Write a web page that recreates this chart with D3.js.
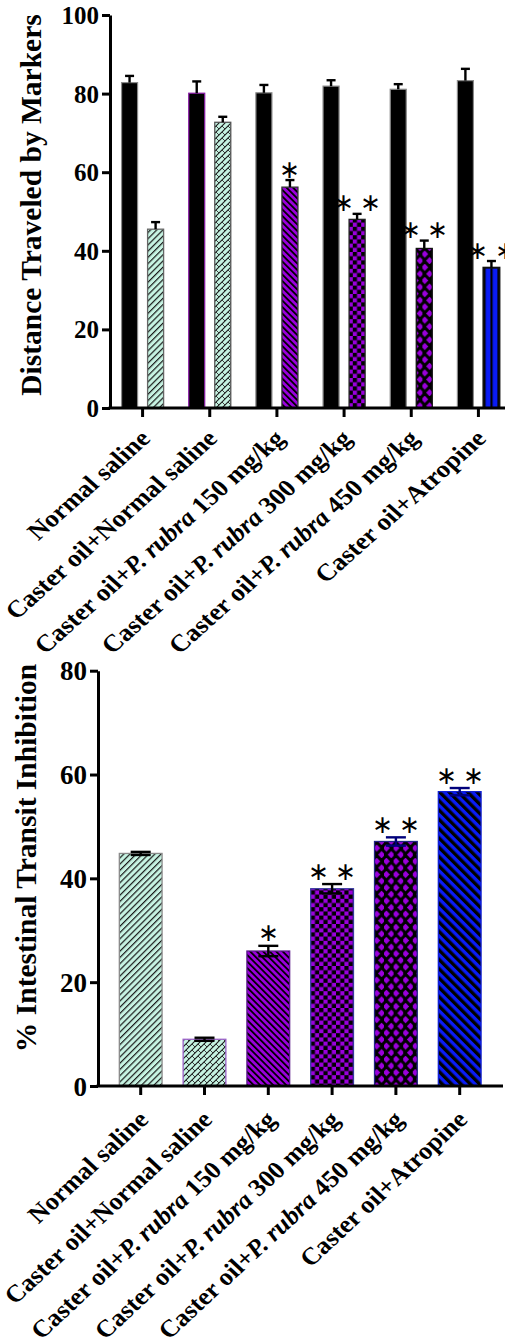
<!DOCTYPE html>
<html>
<head>
<meta charset="utf-8">
<script src="https://cdn.jsdelivr.net/npm/d3@7"></script>
<style>
  html, body { margin: 0; padding: 0; background: #fff; }
  svg { display: block; }
  text { font-family: "Liberation Serif", "Times New Roman", serif; }
</style>
</head>
<body>
<svg id="chart" width="505" height="1342"></svg>
<script>
// Treatment groups (x categories, shared by both panels)
const groups = [
  "Normal saline",
  "Caster oil+Normal saline",
  "Caster oil+P. rubra 150 mg/kg",
  "Caster oil+P. rubra 300 mg/kg",
  "Caster oil+P. rubra 450 mg/kg",
  "Caster oil+Atropine"
];

// Panel A: total intestine length (black) and distance travelled by the marker
const intestineLength    = [82.8, 80.1, 80.2, 81.9, 81.1, 83.3];
const intestineLengthErr = [1.7, 3.0, 2.0, 1.5, 1.3, 3.0];
const markerDistance     = [45.5, 72.7, 56.2, 48.0, 40.6, 35.7];
const markerDistanceErr  = [1.8, 1.4, 1.8, 1.4, 2.0, 1.7];
const distanceTicks      = [0, 20, 40, 60, 80, 100];

// Panel B: % intestinal transit inhibition
const inhibition    = [44.8, 9.0, 26.0, 38.0, 47.1, 56.7];
const inhibitionErr = [0.3, 0.3, 1.0, 0.9, 0.8, 0.7];
const inhibitionTicks = [0, 20, 40, 60, 80];

// Significance marks
const significance = ["", "", "*", "**", "**", "**"];

const MINT = "#c6f3e2", PURPLE = "#9a00dc", BLUE = "#0a1cf5";
const svg = d3.select("#chart");
const defs = svg.append("defs");

// ---------- fill patterns ----------
function stripePattern(id, bg, fg, size, lineW, angle) {
  const p = defs.append("pattern").attr("id", id)
    .attr("patternUnits", "userSpaceOnUse")
    .attr("width", size).attr("height", size)
    .attr("patternTransform", `rotate(${angle})`);
  p.append("rect").attr("width", size).attr("height", size).attr("fill", bg);
  p.append("rect").attr("width", lineW).attr("height", size).attr("fill", fg);
  return p;
}
stripePattern("mintFwd", MINT, "#1a1a1a", 4.4, 1.2, 45);
stripePattern("purpBack", PURPLE, "#000", 4.6, 1.8, -45);
stripePattern("blueBack", BLUE, "#000", 6.6, 3.3, -45);

(function () {
  const p = defs.append("pattern").attr("id", "mintCross")
    .attr("patternUnits", "userSpaceOnUse").attr("width", 6).attr("height", 6);
  p.append("rect").attr("width", 6).attr("height", 6).attr("fill", MINT);
  p.append("path").attr("d", "M-1,7 L7,-1 M-1,1 L1,-1 M5,7 L7,5")
    .attr("stroke", "#1a1a1a").attr("stroke-width", 1.1);
  p.append("path").attr("d", "M0,0 L3,3")
    .attr("stroke", "#2a2a2a").attr("stroke-width", 0.9);
})();

(function () {
  const p = defs.append("pattern").attr("id", "checker")
    .attr("patternUnits", "userSpaceOnUse").attr("width", 8.4).attr("height", 8.4);
  p.append("rect").attr("width", 8.4).attr("height", 8.4).attr("fill", PURPLE);
  p.append("rect").attr("width", 4.2).attr("height", 4.2).attr("fill", "#000");
  p.append("rect").attr("x", 4.2).attr("y", 4.2).attr("width", 4.2).attr("height", 4.2).attr("fill", "#000");
})();

(function () {
  const w = 9.6, h = 13.2;
  const p = defs.append("pattern").attr("id", "diamond")
    .attr("patternUnits", "userSpaceOnUse").attr("width", w).attr("height", h);
  p.append("rect").attr("width", w).attr("height", h).attr("fill", "#000");
  const d = (cx, cy, r) => `M${cx},${cy - r} L${cx + r},${cy} L${cx},${cy + r} L${cx - r},${cy} Z`;
  [[w / 4, h / 4], [3 * w / 4, 3 * h / 4]].forEach(([cx, cy]) => {
    p.append("path").attr("d", d(cx, cy, 2.9)).attr("fill", PURPLE)
      .attr("stroke", PURPLE).attr("stroke-width", 1).attr("stroke-linejoin", "round");
  });
})();

const blueVert = defs.append("pattern").attr("id", "blueVert")
  .attr("patternUnits", "userSpaceOnUse").attr("width", 7).attr("height", 10);
blueVert.append("rect").attr("width", 7).attr("height", 10).attr("fill", BLUE);
blueVert.append("rect").attr("width", 2.2).attr("height", 10).attr("fill", "#000");

// ---------- helpers ----------
function drawLabel(g, label, size) {
  const parts = label.split("P. rubra");
  const t = g.append("text").attr("text-anchor", "end")
    .attr("font-weight", "bold").attr("font-size", size).attr("fill", "#000");
  t.append("tspan").text(parts[0]);
  if (parts.length > 1) {
    t.append("tspan").attr("font-style", "italic").text("P. rubra");
    t.append("tspan").text(parts[1]);
  }
}

function drawYAxis(g, y, x0, ticks, tickSize, title, titleSize, titleX, titleY) {
  const ax = g.append("g").attr("transform", `translate(${x0},0)`)
    .call(d3.axisLeft(y).tickValues(ticks).tickSize(8).tickSizeOuter(0).tickPadding(3));
  ax.select(".domain").attr("stroke", "#000").attr("stroke-width", 3);
  ax.selectAll(".tick line").attr("stroke", "#000").attr("stroke-width", 3);
  ax.selectAll(".tick text").attr("font-family", "Liberation Serif")
    .attr("font-weight", "bold").attr("font-size", tickSize).attr("fill", "#000").attr("dy", "0.34em");
  g.append("text").attr("transform", `translate(${titleX},${titleY}) rotate(-90)`)
    .attr("text-anchor", "middle").attr("font-weight", "bold").attr("font-size", titleSize)
    .attr("fill", "#000").text(title);
}

// category axis with slanted, slightly widened labels
function drawXAxis(g, x, y0, xStart, xEnd, lbl) {
  g.append("line").attr("x1", xStart - 1.5).attr("x2", xEnd).attr("y1", y0).attr("y2", y0)
    .attr("stroke", "#000").attr("stroke-width", 3);
  const ax = g.append("g").attr("transform", `translate(0,${y0})`)
    .call(d3.axisBottom(x).tickSize(9).tickSizeOuter(0).tickFormat(""));
  ax.select(".domain").remove();
  ax.selectAll(".tick line").attr("stroke", "#000").attr("stroke-width", 3);
  groups.forEach(name => {
    const lg = g.append("g")
      .attr("transform", `translate(${x(name) + x.bandwidth() / 2 + lbl.dx},${y0 + lbl.dy}) scale(${lbl.sx},1) rotate(-45)`);
    drawLabel(lg, name, lbl.size);
  });
}

function star(g, cx, cy, mark) {
  const txt = mark === "**" ? "\u2217 \u2217" : "\u2217";
  g.append("text").attr("x", cx).attr("y", cy).attr("text-anchor", "middle")
    .attr("dominant-baseline", "central")
    .attr("font-family", "DejaVu Sans").attr("font-size", 25).attr("fill", "#000").text(txt);
}

// ---------- Panel A ----------
(function () {
  const g = svg.append("g");
  const yAxisX = 110, base = 408;
  const y = d3.scaleLinear().domain([0, 100]).range([base, 15]);
  const x0 = d3.scaleBand().domain(groups).range([109, 512]).padding(0);
  const x1 = d3.scaleBand().domain(["length", "distance"])
    .range([x0.bandwidth() * 0.187, x0.bandwidth() * 0.813]).paddingInner(0.385);

  const lengthStroke   = ["#8a8a8a", "#8a1aa8", "#8a8a8a", "#8a8a8a", "#8a8a8a", "#8a8a8a"];
  const distanceFill   = ["mintFwd", "mintCross", "purpBack", "checker", "diamond", "blueVert"];
  const distanceStroke = ["#666", "#555", "#333", "#222", "#111", "#111"];

  blueVert.attr("x", x0(groups[5]) + x1("distance"));

  groups.forEach((name, i) => {
    const gx = x0(name);
    const bw = x1.bandwidth();
    // total length bar
    const xa = gx + x1("length");
    g.append("rect").attr("x", xa).attr("y", y(intestineLength[i]))
      .attr("width", bw).attr("height", base - y(intestineLength[i]))
      .attr("fill", "#000").attr("stroke", lengthStroke[i]).attr("stroke-width", 1.2);
    // marker distance bar
    const xb = gx + x1("distance");
    g.append("rect").attr("x", xb).attr("y", y(markerDistance[i]))
      .attr("width", bw).attr("height", base - y(markerDistance[i]))
      .attr("fill", `url(#${distanceFill[i]})`)
      .attr("stroke", distanceStroke[i]).attr("stroke-width", i === 5 ? 2 : 1.3);
    // upper error whiskers
    [[xa, intestineLength[i], intestineLengthErr[i]], [xb, markerDistance[i], markerDistanceErr[i]]]
      .forEach(([bx, v, e]) => {
        const cx = bx + bw / 2;
        g.append("line").attr("x1", cx).attr("x2", cx).attr("y1", y(v)).attr("y2", y(v + e))
          .attr("stroke", "#000").attr("stroke-width", 2.4);
        g.append("line").attr("x1", cx - 4.5).attr("x2", cx + 4.5).attr("y1", y(v + e)).attr("y2", y(v + e))
          .attr("stroke", "#000").attr("stroke-width", 2.4);
      });
    if (significance[i]) {
      star(g, xb + bw / 2, y(markerDistance[i] + markerDistanceErr[i]) - 11, significance[i]);
    }
  });

  drawYAxis(g, y, yAxisX, distanceTicks, 25, "Distance Traveled by Markers", 29.5, 41, 205);
  drawXAxis(g, x0, base, yAxisX, 505, { dx: 9, dy: 32, sx: 1.12, size: 24 });
})();

// ---------- Panel B ----------
(function () {
  const g = svg.append("g");
  const yAxisX = 98, base = 1086;
  const y = d3.scaleLinear().domain([0, 80]).range([base, 670.7]);
  const x = d3.scaleBand().domain(groups).range([108.8, 491.6]).paddingInner(0.33).paddingOuter(0.165);

  const fills   = ["mintFwd", "mintCross", "purpBack", "checker", "diamond", "blueBack"];
  const strokes = ["#8a8a8a", "#9a62c8", "#5a1a8a", "#3838a0", "#222288", "#1020d0"];
  const errCol  = ["#000", "#000", "#000", "#000", "#00007a", "#00007a"];

  groups.forEach((name, i) => {
    const bx = x(name), bw = x.bandwidth(), v = inhibition[i], e = inhibitionErr[i];
    g.append("rect").attr("x", bx).attr("y", y(v)).attr("width", bw).attr("height", base - y(v))
      .attr("fill", `url(#${fills[i]})`).attr("stroke", strokes[i]).attr("stroke-width", 1.3);
    const cx = bx + bw / 2;
    g.append("line").attr("x1", cx).attr("x2", cx).attr("y1", y(v - e)).attr("y2", y(v + e))
      .attr("stroke", errCol[i]).attr("stroke-width", 2.4);
    [v - e, v + e].forEach(val => {
      g.append("line").attr("x1", cx - 10).attr("x2", cx + 10).attr("y1", y(val)).attr("y2", y(val))
        .attr("stroke", errCol[i]).attr("stroke-width", 2.4);
    });
    if (significance[i]) star(g, cx, y(v + e) - 13, significance[i]);
  });

  drawYAxis(g, y, yAxisX, inhibitionTicks, 27, "% Intestinal Transit Inhibition", 29.5, 36, 858);
  drawXAxis(g, x, base, yAxisX, 503, { dx: 9, dy: 35, sx: 1.075, size: 24.5 });
})();
</script>
</body>
</html>
